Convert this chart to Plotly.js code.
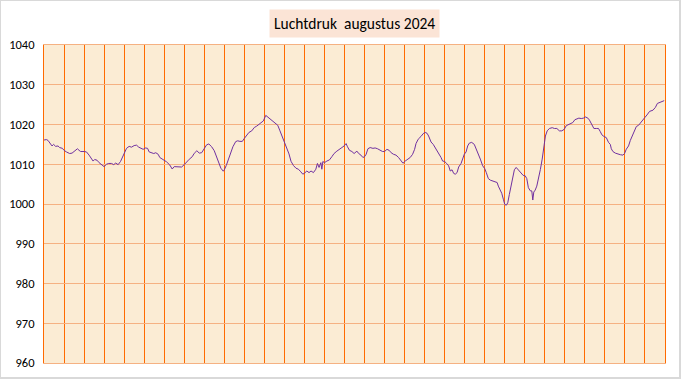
<!DOCTYPE html>
<html>
<head>
<meta charset="utf-8">
<script src="https://cdn.plot.ly/plotly-3.0.1.min.js"></script>
<style>
  html, body { margin: 0; padding: 0; background: #ffffff; }
  #wrap { position: relative; width: 681px; height: 379px; }
  #chart { width: 681px; height: 379px; }
  #frame { position: absolute; left: 0; top: 0; width: 681px; height: 379px; box-sizing: border-box;
           border-top: 1px solid #d9d9d9; border-left: 1px solid #d9d9d9;
           border-right: 2px solid #d9d9d9; border-bottom: 2px solid #d9d9d9; pointer-events: none; }
</style>
</head>
<body>
<div id="wrap"><div id="chart"></div><div id="frame"></div></div>
<script>
// Time in days since 1 August 2024 00:00
const dag = [
  0.00,0.12,0.20,0.28,0.40,0.48,0.58,0.70,0.78,0.92,
  1.00,1.12,1.28,1.40,1.53,1.67,1.75,1.83,
  2.00,2.12,2.25,2.37,2.45,2.53,2.65,2.75,2.83,2.95,
  3.00,3.12,3.23,3.37,3.48,3.58,3.70,3.82,3.92,
  4.00,4.12,4.25,4.37,4.50,4.62,4.73,4.83,4.95,
  5.07,5.17,5.25,5.37,5.48,5.58,5.70,5.78,5.92,
  6.00,6.12,6.28,6.40,6.50,6.62,6.73,6.87,
  7.00,7.12,7.25,7.40,7.50,7.63,7.75,7.87,7.98,
  8.12,8.23,8.37,8.50,8.62,8.73,8.83,8.95,
  9.00,9.10,9.20,9.32,9.43,9.57,9.67,9.78,9.90,
  10.00,10.12,10.23,10.37,10.50,10.62,10.75,10.87,10.95,
  11.07,11.17,11.28,11.40,11.53,11.67,11.78,11.90,
  12.00,12.12,12.23,12.33,12.45,12.58,12.70,12.82,12.92,
  13.00,13.12,13.23,13.33,13.45,13.57,13.65,13.73,13.82,13.87,13.92,
  14.00,14.12,14.25,14.37,14.48,14.62,14.75,14.87,14.98,
  15.08,15.15,15.25,15.37,15.48,15.62,15.70,15.82,15.92,
  16.00,16.08,16.17,16.28,16.42,16.53,16.65,16.78,16.90,
  17.00,17.12,17.23,17.33,17.45,17.57,17.70,17.82,17.92,
  18.03,18.15,18.28,18.40,18.50,18.57,18.68,18.82,18.93,
  19.03,19.12,19.20,19.32,19.43,19.57,19.68,19.82,19.90,
  20.00,20.10,20.20,20.28,20.37,20.45,20.53,20.62,20.70,20.82,20.90,20.98,
  21.07,21.15,21.23,21.35,21.48,21.58,21.68,21.78,21.90,
  22.00,22.08,22.18,22.28,22.40,22.52,22.62,22.68,22.77,22.85,22.93,
  23.00,23.08,23.15,23.23,23.32,23.40,23.48,23.57,23.65,23.73,23.82,23.92,
  24.02,24.10,24.18,24.28,24.35,24.40,24.45,24.52,24.60,24.68,24.78,24.87,24.95,
  25.03,25.12,25.23,25.37,25.48,25.60,25.73,25.85,25.97,
  26.07,26.20,26.32,26.40,26.50,26.60,26.70,26.82,26.93,
  27.03,27.15,27.23,27.35,27.45,27.57,27.68,27.77,27.85,27.95,
  28.07,28.18,28.27,28.32,28.40,28.52,28.65,28.77,28.90,28.98,
  29.07,29.18,29.27,29.37,29.48,29.57,29.68,29.78,29.90,
  30.00,30.10,30.23,30.40,30.52,30.62,30.73,30.85,30.96
];
// Air pressure (hPa)
const luchtdruk = [
  1016.1,1016.2,1016.0,1015.3,1014.6,1015.0,1014.5,1014.6,1014.2,1014.0,
  1013.5,1013.1,1012.7,1012.8,1013.3,1013.9,1013.5,1013.2,
  1013.2,1013.1,1012.3,1011.4,1010.8,1011.2,1011.0,1010.4,1010.0,1009.4,
  1009.4,1010.0,1010.2,1010.2,1009.9,1010.3,1009.9,1010.7,1011.7,
  1012.9,1014.0,1014.5,1014.3,1014.7,1014.8,1014.3,1014.0,1013.75,
  1014.1,1014.0,1013.1,1012.9,1012.7,1012.9,1012.5,1011.7,1011.3,
  1011.0,1010.6,1009.8,1008.8,1009.4,1009.4,1009.25,1009.3,
  1009.9,1010.6,1011.25,1011.9,1012.75,1013.4,1012.8,1012.9,1013.8,
  1014.9,1015.1,1014.4,1013.4,1011.9,1010.5,1009.0,1008.25,
  1008.6,1009.7,1011.1,1012.6,1014.4,1015.7,1015.9,1015.75,1015.75,
  1016.5,1017.2,1018.0,1018.4,1019.25,1019.6,1020.1,1020.4,1020.9,
  1022.3,1021.9,1021.5,1021.1,1020.4,1019.8,1018.4,1016.75,
  1015.9,1014.25,1012.6,1010.75,1009.7,1009.0,1008.75,1008.1,1007.5,
  1007.75,1008.3,1007.9,1008.3,1007.9,1008.75,1010.2,1009.2,1010.4,1008.75,1010.7,
  1010.4,1010.8,1011.1,1011.9,1012.7,1013.3,1013.9,1014.2,1014.6,
  1015.2,1014.4,1013.5,1013.2,1012.7,1013.3,1012.75,1012.3,1011.7,
  1011.9,1012.5,1013.9,1014.2,1014.0,1014.1,1013.9,1013.5,1013.2,
  1013.2,1013.75,1013.5,1012.9,1012.5,1012.3,1011.7,1010.8,1010.25,
  1010.8,1011.25,1011.7,1012.5,1013.75,1015.2,1016.3,1017.0,1017.7,
  1018.0,1017.8,1017.1,1015.6,1015.0,1013.9,1012.9,1011.7,1010.8,
  1010.7,1010.2,1009.6,1008.3,1008.6,1007.7,1007.5,1007.9,1009.3,1010.2,1011.4,1012.5,
  1013.1,1014.6,1015.3,1015.5,1015.0,1013.9,1012.5,1011.3,1009.6,
  1008.9,1007.9,1006.4,1006.0,1005.8,1005.6,1005.4,1004.5,1003.7,1002.7,1001.2,
  999.9,999.7,1000.3,1002.4,1005.0,1007.2,1008.6,1009.2,1008.8,1008.3,1007.9,1007.2,
  1007.1,1006.4,1004.1,1003.3,1003.3,1001.0,1003.0,1003.5,1004.5,1006.2,1008.7,1011.3,1014.2,
  1017.1,1018.4,1019.0,1019.2,1019.0,1019.0,1018.4,1018.4,1018.8,
  1019.7,1020.1,1020.3,1020.5,1021.2,1021.5,1021.6,1021.5,1021.6,
  1021.9,1021.6,1021.1,1020.1,1019.0,1019.0,1019.0,1018.2,1017.4,1017.0,
  1016.7,1015.5,1015.0,1013.9,1013.2,1012.8,1012.5,1012.4,1012.3,1012.7,
  1013.8,1014.6,1016.0,1017.1,1018.6,1019.5,1019.8,1020.5,1021.1,
  1021.8,1022.4,1023.3,1023.6,1024.3,1025.3,1025.5,1025.8,1026.0
];
const yTicks = [960, 970, 980, 990, 1000, 1010, 1020, 1030, 1040];
const titel = "Luchtdruk&nbsp;&nbsp;augustus 2024";

const fontFam = "Carlito, Calibri, Roboto, 'Liberation Sans', sans-serif";

const trace = {
  x: dag, y: luchtdruk, type: "scatter", mode: "lines",
  line: { color: "#7030A0", width: 1 },
  hoverinfo: "skip"
};

const layout = {
  width: 681, height: 379,
  margin: { l: 44, r: 16, t: 45, b: 16, pad: 0 },
  paper_bgcolor: "#ffffff",
  plot_bgcolor: "#FBECD4",
  showlegend: false,
  font: { family: fontFam, color: "#000000" },
  xaxis: {
    range: [0, 31], dtick: 1, tick0: 0,
    showgrid: true, gridcolor: "#FF6A00", gridwidth: 1,
    showticklabels: false, ticks: "",
    zeroline: false,
    showline: true, linecolor: "#F5B182", linewidth: 1, mirror: true
  },
  yaxis: {
    range: [960, 1040], tickvals: yTicks, ticktext: yTicks.map(String),
    showgrid: true, gridcolor: "#F5B182", gridwidth: 1,
    ticks: "", ticklabelstandoff: 6,
    tickfont: { size: 12.5, color: "#000000", family: fontFam },
    zeroline: false,
    showline: true, linecolor: "#FF6A00", linewidth: 1, mirror: true
  },
  annotations: [{
    text: titel, xref: "paper", yref: "paper",
    x: 0.5, y: 1.068, xanchor: "center", yanchor: "middle",
    showarrow: false, bgcolor: "#FBE4D6", borderpad: 4,
    font: { size: 15.5, color: "#000000", family: fontFam }
  }]
};

Plotly.newPlot("chart", [trace], layout, { staticPlot: true, displayModeBar: false });
</script>
</body>
</html>
